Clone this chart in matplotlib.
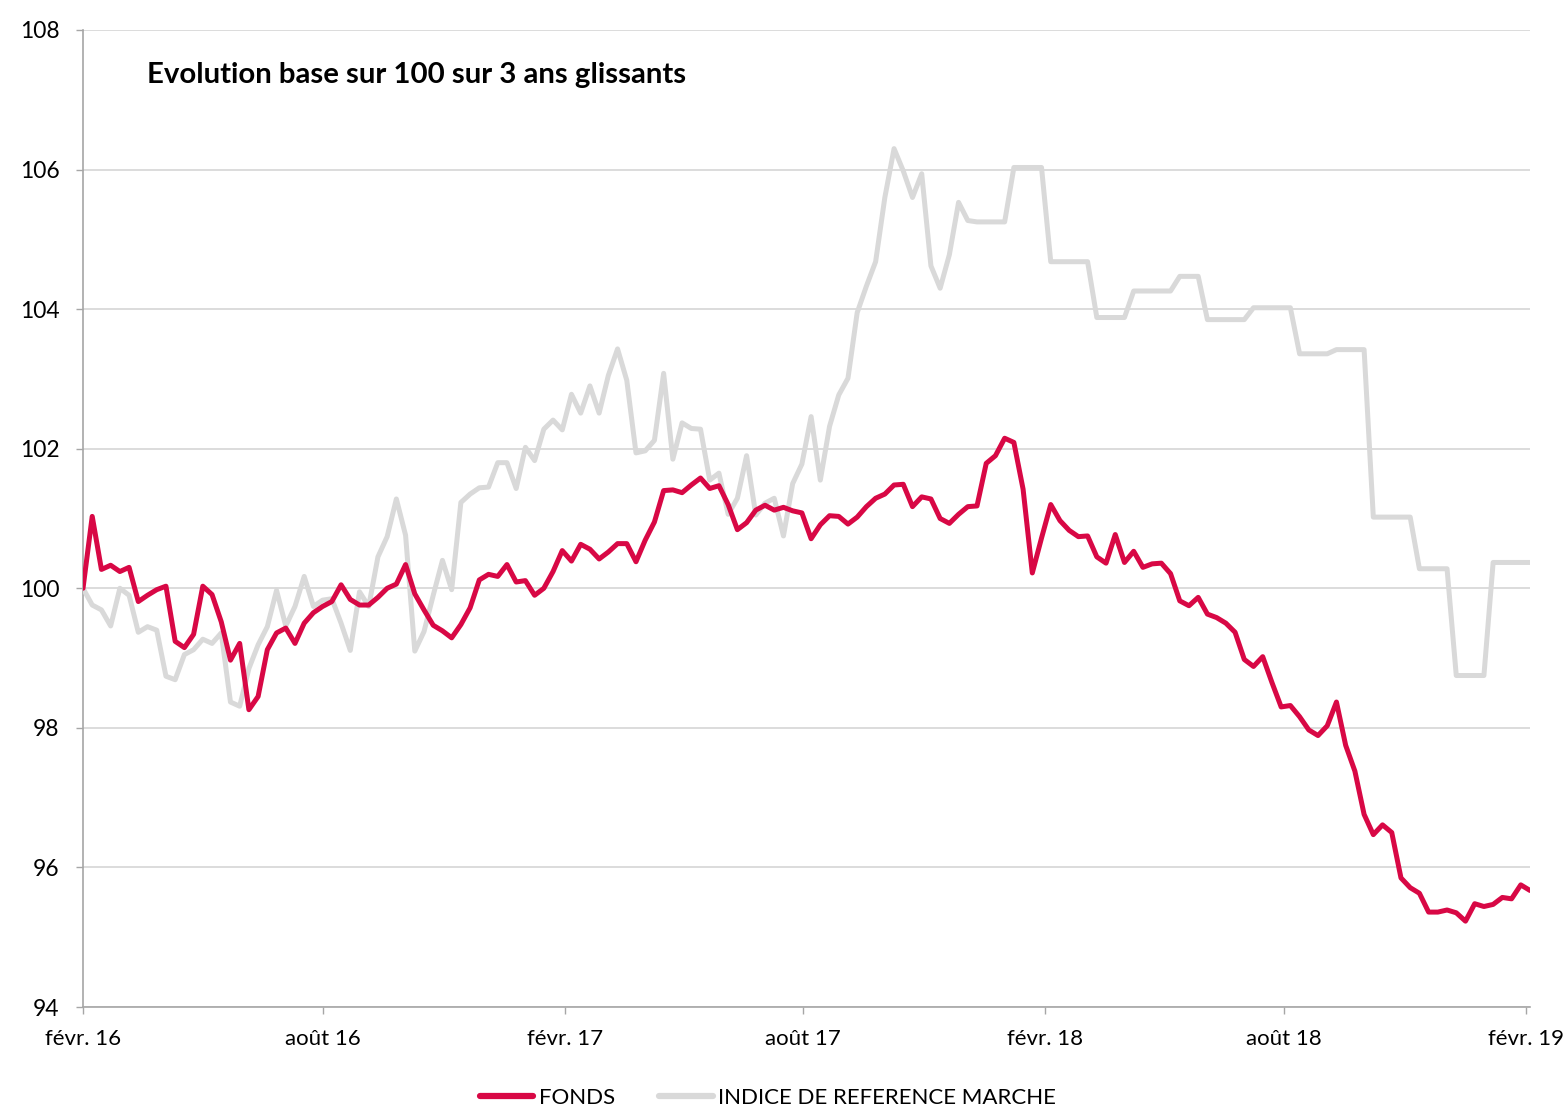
import matplotlib
matplotlib.use("Agg")
import matplotlib.pyplot as plt
import pandas as pd

plt.rcParams['font.family'] = ['Lato', 'DejaVu Sans']

# Weekly observations, Feb 2016 -> Feb 2019
start_date = "2016-02-01"
n_weeks = 158

fonds = [
    100.00, 101.03, 100.27, 100.33, 100.24, 100.30, 99.81, 99.90, 99.98, 100.03,
    99.24, 99.15, 99.34, 100.03, 99.91, 99.52, 98.97, 99.21, 98.26, 98.45,
    99.12, 99.36, 99.43, 99.21, 99.50, 99.65, 99.74, 99.81, 100.05, 99.84,
    99.76, 99.76, 99.87, 100.00, 100.06, 100.34, 99.92, 99.69, 99.47, 99.39,
    99.29, 99.48, 99.72, 100.12, 100.20, 100.17, 100.34, 100.09, 100.11, 99.90,
    100.00, 100.24, 100.54, 100.39, 100.63, 100.56, 100.42, 100.52, 100.64, 100.64,
    100.38, 100.69, 100.95, 101.40, 101.41, 101.37, 101.48, 101.58, 101.43, 101.47,
    101.20, 100.84, 100.94, 101.12, 101.19, 101.12, 101.16, 101.11, 101.08, 100.71,
    100.91, 101.04, 101.03, 100.92, 101.02, 101.17, 101.29, 101.35, 101.48, 101.49,
    101.17, 101.31, 101.28, 101.00, 100.93, 101.06, 101.17, 101.18, 101.79, 101.90,
    102.15, 102.09, 101.42, 100.22, 100.72, 101.20, 100.97, 100.83, 100.74, 100.75,
    100.45, 100.36, 100.77, 100.37, 100.53, 100.30, 100.35, 100.36, 100.21, 99.82,
    99.75, 99.87, 99.63, 99.58, 99.50, 99.37, 98.98, 98.88, 99.02, 98.65,
    98.30, 98.32, 98.16, 97.97, 97.89, 98.03, 98.37, 97.75, 97.38, 96.76,
    96.47, 96.61, 96.50, 95.85, 95.71, 95.63, 95.36, 95.36, 95.39, 95.35,
    95.23, 95.48, 95.44, 95.47, 95.57, 95.55, 95.75, 95.67,
]

indice = [
    100.00, 99.76, 99.69, 99.46, 100.00, 99.90, 99.37, 99.45, 99.40, 98.74,
    98.69, 99.05, 99.12, 99.27, 99.21, 99.36, 98.37, 98.31, 98.85, 99.19,
    99.45, 99.97, 99.46, 99.74, 100.17, 99.74, 99.83, 99.85, 99.50, 99.11,
    99.95, 99.74, 100.45, 100.74, 101.28, 100.76, 99.10, 99.38, 99.90, 100.40,
    99.98, 101.23, 101.35, 101.44, 101.45, 101.80, 101.80, 101.43, 102.02, 101.83,
    102.28, 102.41, 102.27, 102.78, 102.51, 102.90, 102.51, 103.05, 103.43, 102.98,
    101.94, 101.97, 102.12, 103.08, 101.85, 102.37, 102.29, 102.28, 101.55, 101.65,
    101.06, 101.29, 101.90, 101.05, 101.22, 101.29, 100.75, 101.50, 101.78, 102.46,
    101.55, 102.32, 102.77, 103.01, 103.95, 104.33, 104.68, 105.60, 106.30, 105.98,
    105.60, 105.94, 104.62, 104.30, 104.78, 105.53, 105.27, 105.25, 105.25, 105.25,
    105.25, 106.03, 106.03, 106.03, 106.03, 104.68, 104.68, 104.68, 104.68, 104.68,
    103.88, 103.88, 103.88, 103.88, 104.26, 104.26, 104.26, 104.26, 104.26, 104.47,
    104.47, 104.47, 103.85, 103.85, 103.85, 103.85, 103.85, 104.02, 104.02, 104.02,
    104.02, 104.02, 103.36, 103.36, 103.36, 103.36, 103.42, 103.42, 103.42, 103.42,
    101.02, 101.02, 101.02, 101.02, 101.02, 100.28, 100.28, 100.28, 100.28, 98.75,
    98.75, 98.75, 98.75, 100.37, 100.37, 100.37, 100.37, 100.37,
]

tick_dates = ["2016-02-01", "2016-08-01", "2017-02-01", "2017-08-01",
              "2018-02-01", "2018-08-01", "2019-02-01"]
tick_labels = ["févr. 16", "août 16", "févr. 17", "août 17",
               "févr. 18", "août 18", "févr. 19"]
y_ticks = [94, 96, 98, 100, 102, 104, 106, 108]

title = "Evolution base sur 100 sur 3 ans glissants"
series_names = ["FONDS", "INDICE DE REFERENCE MARCHE"]

dates = pd.date_range(start_date, periods=n_weeks, freq="7D")

W, H = 1565, 1107
fig = plt.figure(figsize=(W / 100, H / 100), dpi=100)
ax = fig.add_axes([83 / W, 1 - 1007 / H, (1530 - 83) / W, (1007 - 30) / H])

red = "#D80845"
grey = "#D9D9D9"

ax.plot(dates, indice, color=grey, lw=3.6, label=series_names[1], zorder=3,
        solid_joinstyle="round", solid_capstyle="round")
ax.plot(dates, fonds, color=red, lw=3.6, label=series_names[0], zorder=4,
        solid_joinstyle="round", solid_capstyle="round")

ax.set_ylim(94, 108)
ax.set_yticks(y_ticks)
ax.set_yticklabels([str(v) for v in y_ticks])
ax.set_xlim(dates[0], dates[-1])
ax.set_xticks(pd.to_datetime(tick_dates))
ax.set_xticklabels(tick_labels)

ax.grid(axis="y", color="#D9D9D9", lw=1.3, zorder=0)
ax.grid(axis="x", visible=False)
ax.set_axisbelow(True)

for s in ["top", "right"]:
    ax.spines[s].set_visible(False)
for s in ["left", "bottom"]:
    ax.spines[s].set_color("#A6A6A6")
    ax.spines[s].set_linewidth(1.2)

ax.tick_params(axis="y", length=5, width=1.0, color="#A6A6A6", pad=12,
               labelsize=16.5, labelcolor="#000000")
ax.tick_params(axis="x", length=5, width=1.0, color="#A6A6A6", pad=11,
               labelsize=16, labelcolor="#000000")

fig.text(147 / W, 1 - 75 / H, title, fontsize=21.2, fontweight="bold",
         ha="left", va="center", color="#000000")

handles, labels = ax.get_legend_handles_labels()
order = [1, 0]
leg = fig.legend([handles[i] for i in order], [labels[i] for i in order],
                 loc="center", bbox_to_anchor=(768 / W, 1 - 1098 / H),
                 ncol=2, frameon=False, fontsize=16, handlelength=2.4,
                 handletextpad=0.25, columnspacing=2.0, borderpad=0)
for line in leg.get_lines():
    line.set_linewidth(4.5)

fig.savefig("out.png", dpi=100, facecolor="white")
